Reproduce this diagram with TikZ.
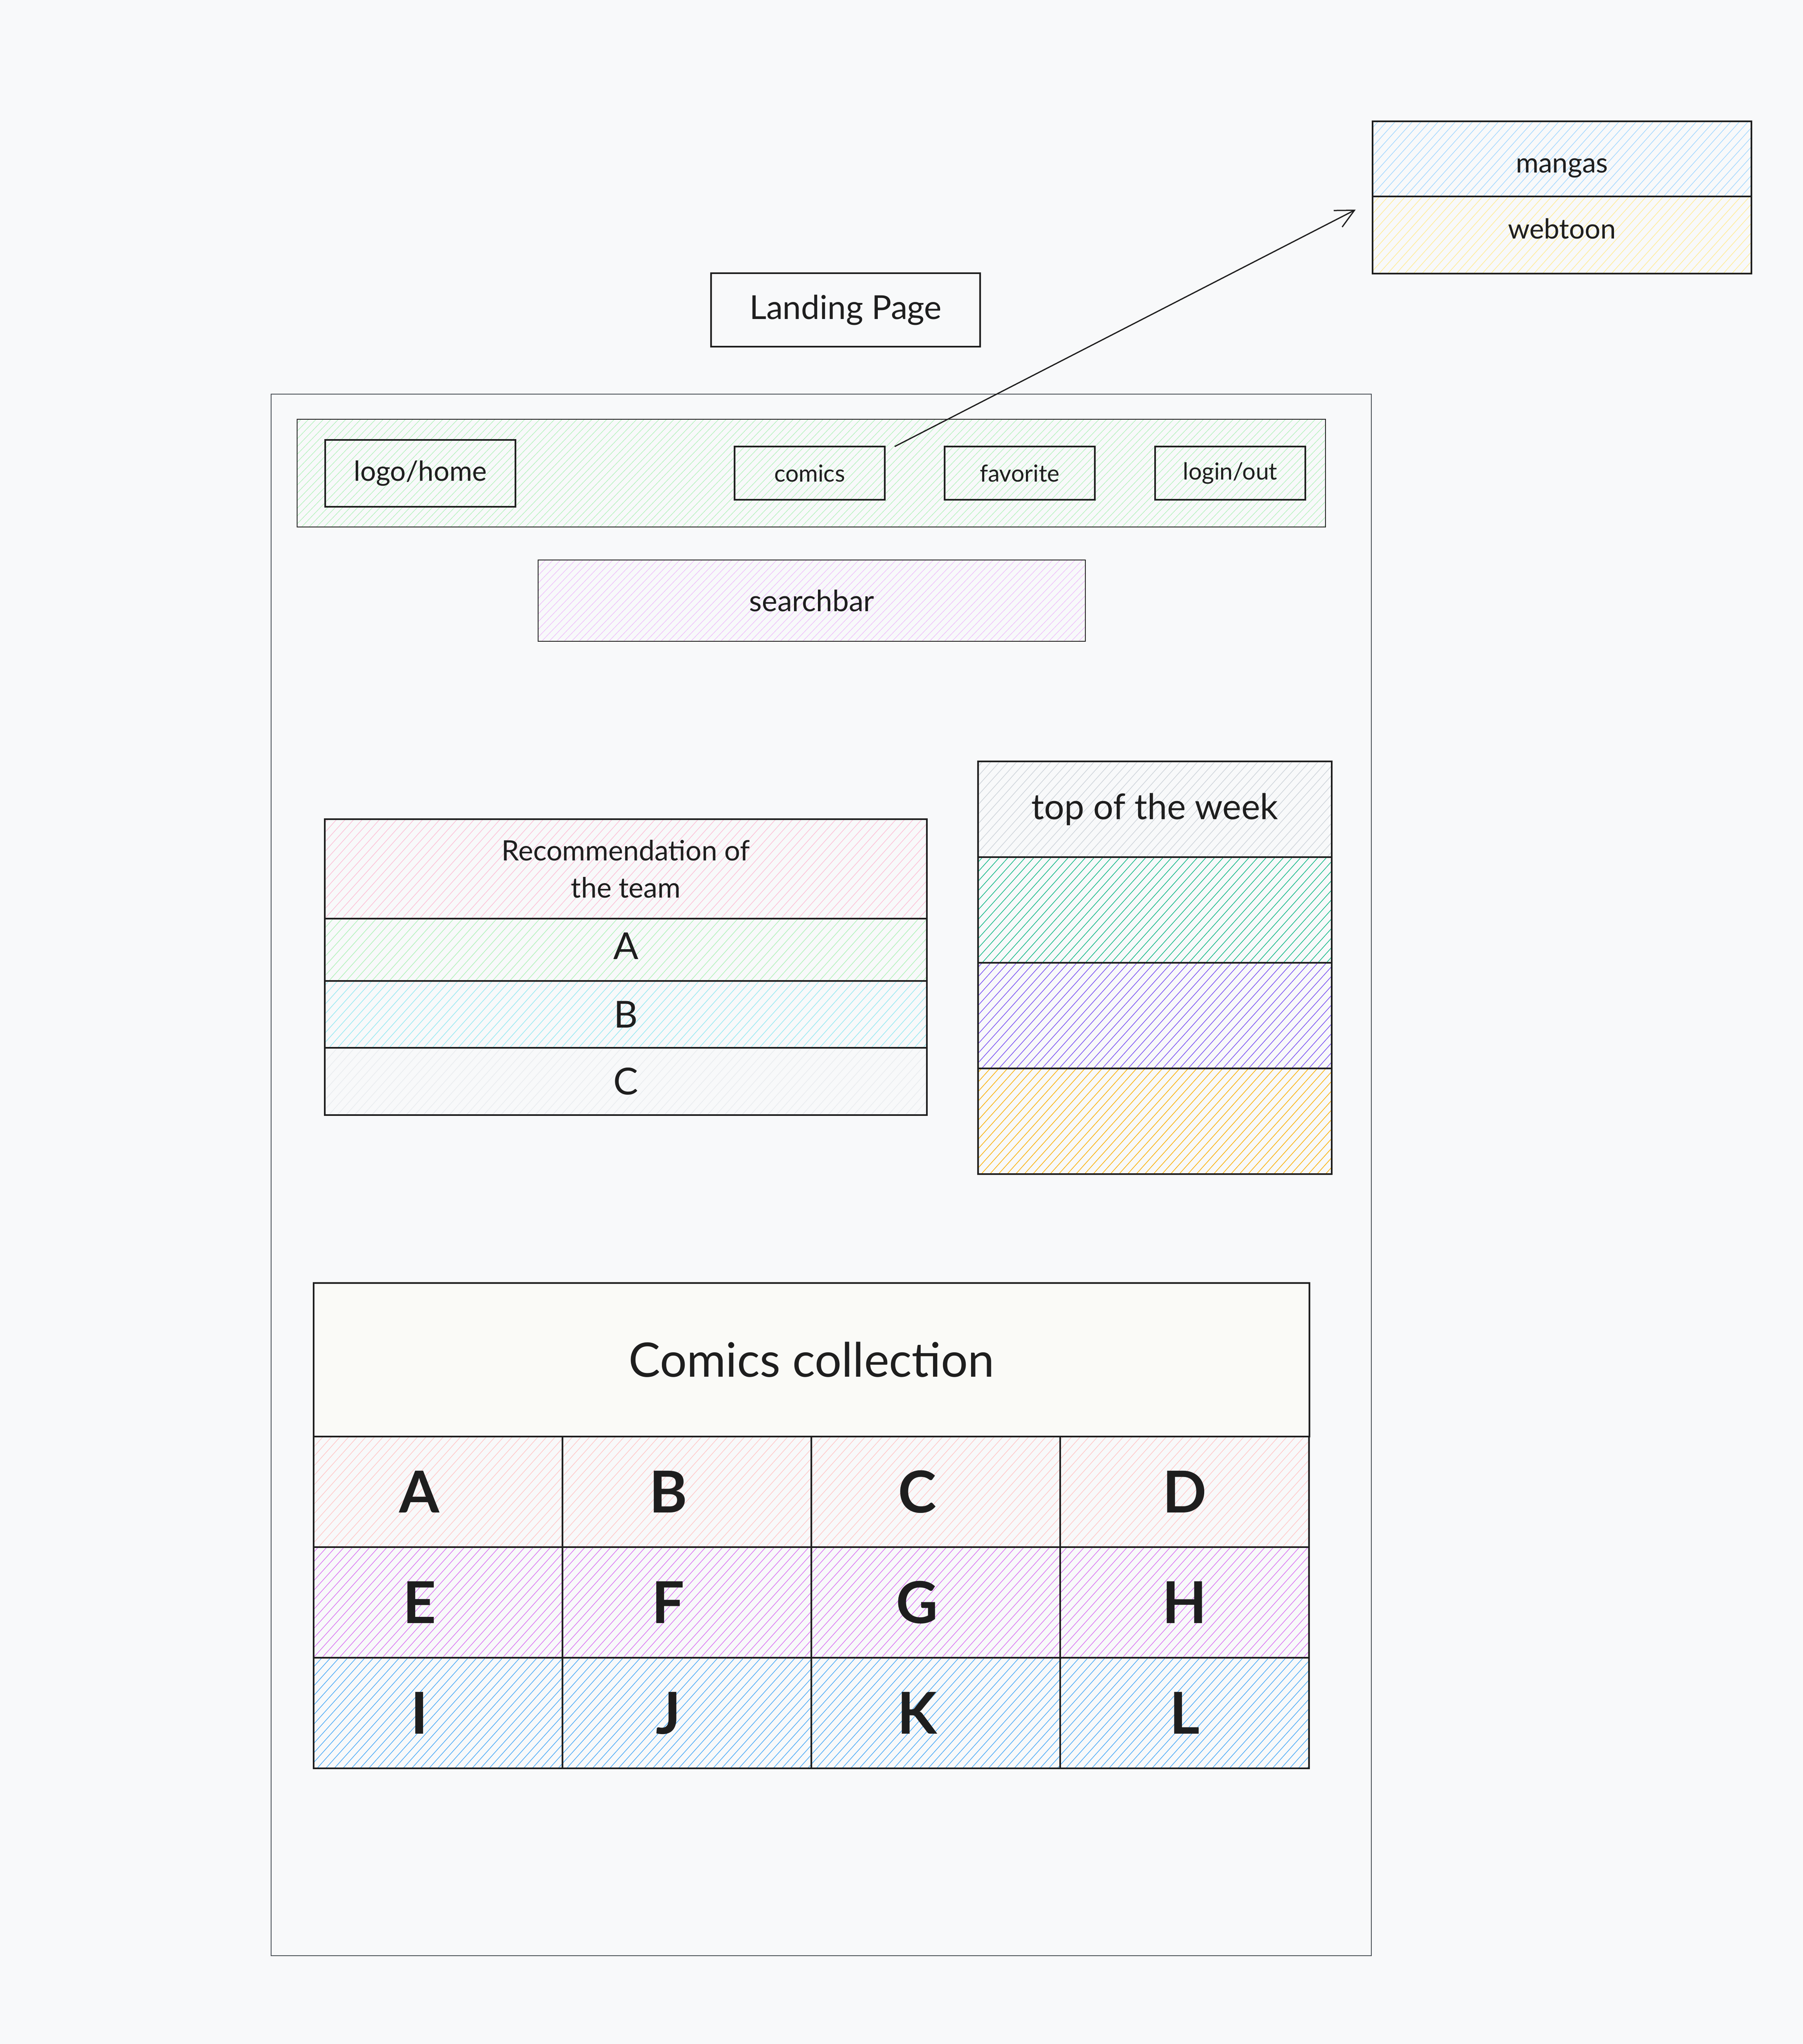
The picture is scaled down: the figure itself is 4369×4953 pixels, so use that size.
\documentclass[tikz,border=0pt]{standalone}
\usepackage{fontspec}
\setmainfont{Lato}
\usepackage{xcolor}
\usetikzlibrary{positioning, patterns.meta, arrows.meta}

\definecolor{canvas}{HTML}{F8F9FA}
\definecolor{ink}{HTML}{1E1E1E}
\definecolor{frameGray}{HTML}{495057}
\definecolor{navGreen}{HTML}{B2F2BB}
\definecolor{searchLilac}{HTML}{EEBEFA}
\definecolor{mangaBlue}{HTML}{A5D8FF}
\definecolor{webtoonYellow}{HTML}{FFEC99}
\definecolor{recPink}{HTML}{FCC2D7}
\definecolor{recGreen}{HTML}{B2F2BB}
\definecolor{recCyan}{HTML}{99E9F2}
\definecolor{recGray}{HTML}{E9ECEF}
\definecolor{topGray}{HTML}{CED4DA}
\definecolor{topTeal}{HTML}{12B886}
\definecolor{topViolet}{HTML}{7950F2}
\definecolor{topAmber}{HTML}{FAB005}
\definecolor{collectionFill}{HTML}{FAFAF7}
\definecolor{gridRose}{HTML}{FFC9C9}
\definecolor{gridOrchid}{HTML}{DA77F2}
\definecolor{gridSky}{HTML}{4DABF7}

\begin{document}
\begin{tikzpicture}[x=0.1pt, y=-0.1pt,
				Box/.style={rectangle, draw=ink, line width=0.35pt, inner sep=0pt, outer sep=0pt, text=ink},
				ThinBox/.style={Box, line width=0.2pt},
				Hatch/.style={pattern={Lines[angle=48, distance=1.55pt, line width=0.15pt]}, pattern color=#1},
				FineHatch/.style={pattern={Lines[angle=46, distance=1.3pt, line width=0.13pt]}, pattern color=#1},
				MenuItem/.style={Box, minimum width=36.4pt, minimum height=12.9pt, font=\fontsize{5.7pt}{7pt}\selectfont},
				MenuText/.style={font=\fontsize{6.7pt}{8pt}\selectfont, text=ink},
				RecRow/.style={Box, minimum width=145.9pt, font=\fontsize{9pt}{11pt}\selectfont},
				TopRow/.style={Box, minimum width=85.7pt, minimum height=25.6pt},
				GridCell/.style={Box, minimum width=60.3pt, minimum height=26.8pt},
				GridLetter/.style={font=\fontsize{14pt}{16pt}\bfseries\selectfont, text=ink}]

			\fill[canvas] (0,0) rectangle (4369,4953);

			% title and page frame
			\node[Box, line width=0.4pt, minimum width=65.2pt, minimum height=17.8pt, font=\fontsize{8pt}{10pt}\selectfont] (landing) at (2049,751) {Landing Page};
			\node[ThinBox, draw=frameGray, minimum width=266.6pt, minimum height=378.4pt, anchor=north west] (page) at (657,955) {};

			% navigation bar
			\node[ThinBox, FineHatch=navGreen, minimum width=249.2pt, minimum height=26.1pt, anchor=north west] (navbar) at (720,1016) {};
			\node[Box, line width=0.45pt, minimum width=46.1pt, minimum height=16.2pt, font=\fontsize{6.7pt}{8pt}\selectfont] (logo) at (1018.5,1147) {logo/home};
			\node[MenuItem] (comics) at (1962,1146.5) {comics};
			\node[MenuItem, right=14.5pt of comics] (favorite) {favorite};
			\node[MenuItem, right=14.6pt of favorite] (login) {login/out};

			\node[ThinBox, FineHatch=searchLilac, minimum width=132.6pt, minimum height=19.7pt, font=\fontsize{7.1pt}{9pt}\selectfont] (search) at (1967,1455.5) {searchbar};

			% comics menu
			\node[Box, line width=0.45pt, Hatch=mangaBlue, minimum width=91.8pt, minimum height=18.2pt, anchor=north west, label={[MenuText, yshift=-2.2pt]center:mangas}] (mangas) at (3326,294) {};
			\node[Box, line width=0.45pt, Hatch=webtoonYellow, minimum width=91.8pt, minimum height=18.7pt, below=0pt of mangas, label={[MenuText, yshift=1.5pt]center:webtoon}] (webtoon) {};
			\draw[ink, line width=0.3pt, -{Straight Barb[length=4.5pt, width=4.5pt]}] ([xshift=2.4pt]comics.north east) -- ([xshift=-4.1pt, yshift=-3.2pt]mangas.south west);

			% recommendation of the team
			\node[Box, Hatch=recPink, minimum width=145.9pt, minimum height=24.1pt, anchor=north west, align=center, font=\fontsize{6.8pt}{9pt}\selectfont] (recHead) at (787,1985) {Recommendation of\\the team};
			\node[RecRow, Hatch=recGreen, minimum height=15.1pt, below=0pt of recHead] (recA) {\raisebox{1.8pt}{A}};
			\node[RecRow, Hatch=recCyan, minimum height=16.2pt, below=0pt of recA] (recB) {B};
			\node[RecRow, Hatch=recGray, minimum height=16.3pt, below=0pt of recB] (recC) {C};

			% top of the week
			\node[Box, Hatch=topGray, minimum width=85.7pt, minimum height=23.2pt, anchor=north west, font=\fontsize{8.6pt}{10pt}\selectfont] (topHead) at (2370,1845) {top of the week};
			\node[TopRow, Hatch=topTeal, below=0pt of topHead] (topOne) {};
			\node[TopRow, Hatch=topViolet, below=0pt of topOne] (topTwo) {};
			\node[TopRow, Hatch=topAmber, below=0pt of topTwo] (topThree) {};

			% comics collection
			\node[Box, fill=collectionFill, minimum width=241.3pt, minimum height=37.2pt, anchor=north west, font=\fontsize{11.5pt}{13pt}\selectfont] (collection) at (760,3109) {Comics collection};
			\foreach \lbl/\c/\r/\tint in {A/0/0/gridRose, B/1/0/gridRose, C/2/0/gridRose, D/3/0/gridRose,
					E/0/1/gridOrchid, F/1/1/gridOrchid, G/2/1/gridOrchid, H/3/1/gridOrchid,
					I/0/2/gridSky, J/1/2/gridSky, K/2/2/gridSky, L/3/2/gridSky}
				\node[GridCell, Hatch=\tint, label={[GridLetter, xshift={-4.5pt*(\c<3)}]center:\lbl}] (cell\lbl) at ({1061.5+603*\c},{3615+268*\r}) {};
		\end{tikzpicture}
\end{document}
